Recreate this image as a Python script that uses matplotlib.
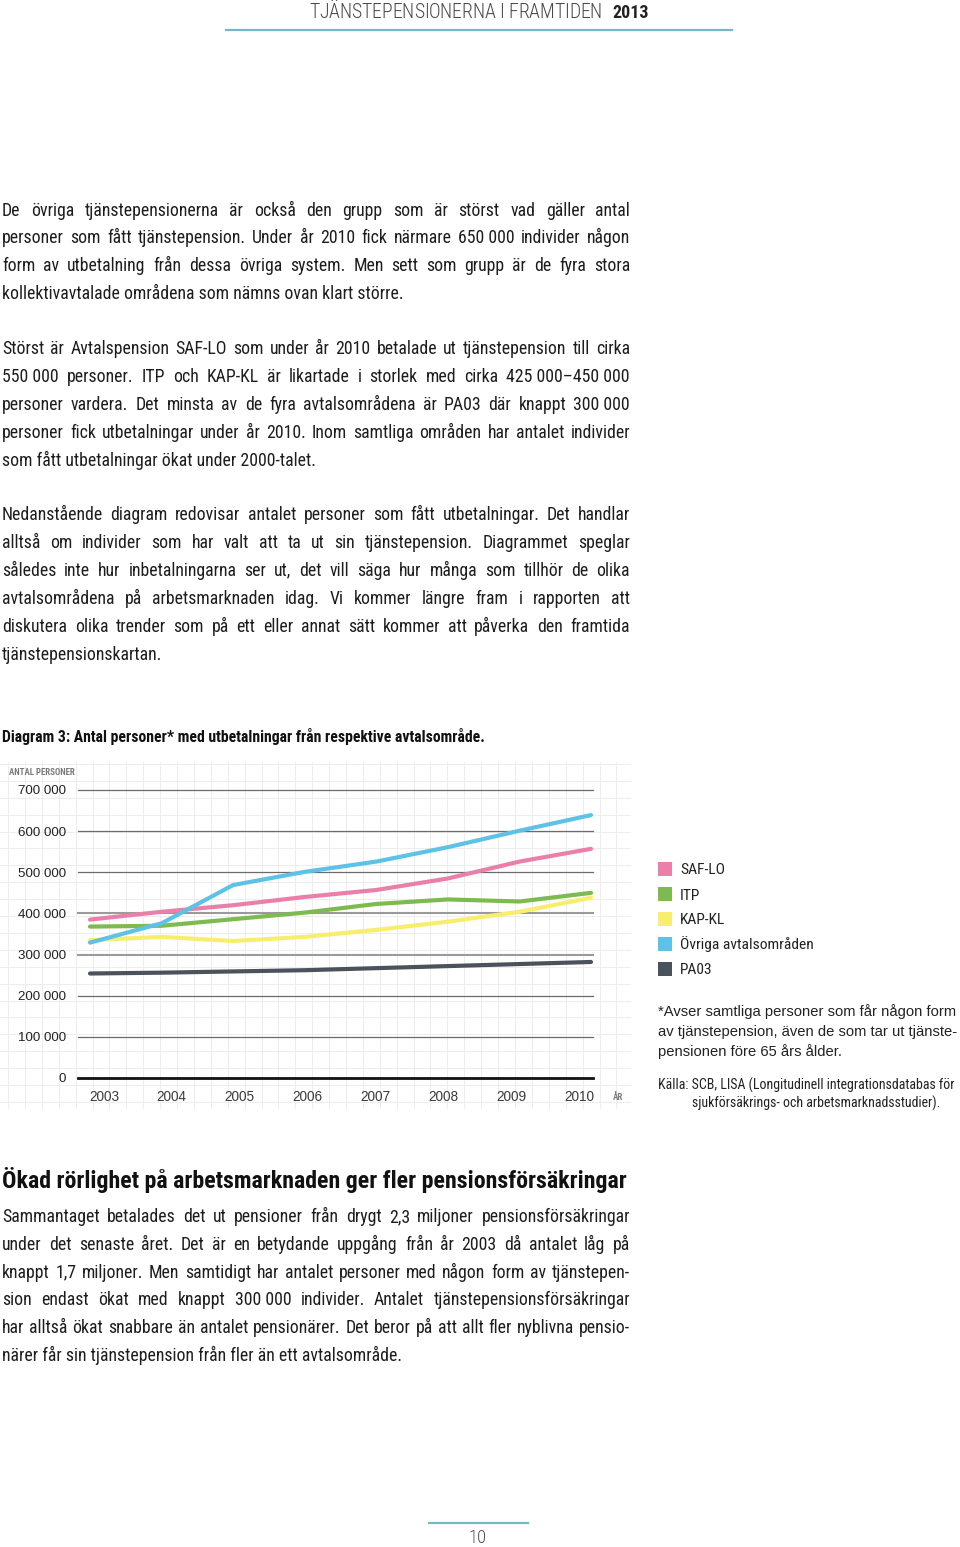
import matplotlib
matplotlib.use("Agg")
import matplotlib.pyplot as plt
from matplotlib import font_manager as fm
from matplotlib.font_manager import FontProperties
from matplotlib.patches import Rectangle
import numpy as np

# ---------------- data ----------------
years = [2003, 2004, 2005, 2006, 2007, 2008, 2009, 2010]
series_names = ["SAF-LO", "ITP", "KAP-KL", "Övriga avtalsområden", "PA03"]
saf_lo = [385000, 404000, 420000, 440000, 457000, 485000, 526000, 557000]
itp = [368000, 370000, 386000, 402000, 423000, 434000, 429000, 450000]
kap_kl = [335000, 343000, 333000, 343000, 360000, 380000, 404000, 438000]
ovriga = [329000, 376000, 469000, 501000, 526000, 561000, 601000, 639000]
pa03 = [254000, 256000, 259000, 262000, 267000, 272000, 277000, 282000]
series_colors = ["#ea80a9", "#7dbb50", "#f8ee6e", "#5ec2e6", "#4a525c"]
y_ticks = [0, 100000, 200000, 300000, 400000, 500000, 600000, 700000]
y_tick_labels = ["0", "100 000", "200 000", "300 000", "400 000", "500 000", "600 000", "700 000"]

header_text = "TJÄNSTEPENSIONERNA I FRAMTIDEN"
header_year = "2013"
para1 = ["De övriga tjänstepensionerna är också den grupp som är störst vad gäller antal",
         "personer som fått tjänstepension. Under år 2010 fick närmare 650\u00a0000 individer någon",
         "form av utbetalning från dessa övriga system. Men sett som grupp är de fyra stora",
         "kollektivavtalade områdena som nämns ovan klart större."]
para2 = ["Störst är Avtalspension SAF-LO som under år 2010 betalade ut tjänstepension till cirka",
         "550\u00a0000 personer. ITP och KAP-KL är likartade i storlek med cirka 425\u00a0000–450\u00a0000",
         "personer vardera. Det minsta av de fyra avtalsområdena är PA03 där knappt 300\u00a0000",
         "personer fick utbetalningar under år 2010. Inom samtliga områden har antalet individer",
         "som fått utbetalningar ökat under 2000-talet."]
para3 = ["Nedanstående diagram redovisar antalet personer som fått utbetalningar. Det handlar",
         "alltså om individer som har valt att ta ut sin tjänstepension. Diagrammet speglar",
         "således inte hur inbetalningarna ser ut, det vill säga hur många som tillhör de olika",
         "avtalsområdena på arbetsmarknaden idag. Vi kommer längre fram i rapporten att",
         "diskutera olika trender som på ett eller annat sätt kommer att påverka den framtida",
         "tjänstepensionskartan."]
chart_title = "Diagram 3: Antal personer* med utbetalningar från respektive avtalsområde."
heading = "Ökad rörlighet på arbetsmarknaden ger fler pensionsförsäkringar"
para4 = ["Sammantaget betalades det ut pensioner från drygt 2,3 miljoner pensionsförsäkringar",
         "under det senaste året. Det är en betydande uppgång från år 2003 då antalet låg på",
         "knappt 1,7 miljoner. Men samtidigt har antalet personer med någon form av tjänstepen-",
         "sion endast ökat med knappt 300\u00a0000 individer. Antalet tjänstepensionsförsäkringar",
         "har alltså ökat snabbare än antalet pensionärer. Det beror på att allt fler nyblivna pensio-",
         "närer får sin tjänstepension från fler än ett avtalsområde."]
footnote = ["*Avser samtliga personer som får någon form",
            "av tjänstepension, även de som tar ut tjänste-",
            "pensionen före 65 års ålder."]
source = ["Källa: SCB, LISA (Longitudinell integrationsdatabas för",
          "sjukförsäkrings- och arbetsmarknadsstudier)."]
page_number = "10"

# ---------------- fonts ----------------
names = {f.name for f in fm.fontManager.ttflist}
COND = dict(family="DejaVu Sans", stretch="condensed")
for cand in ["Roboto Condensed", "Archivo Narrow", "Fira Sans Condensed",
             "IBM Plex Sans Condensed", "Liberation Sans Narrow"]:
    if cand in names:
        COND = dict(family=cand)
        break
REG = dict(family="Liberation Sans")
TXT = "#1e1c1c"

W, H = 960, 1547
fig = plt.figure(figsize=(W / 100, H / 100), dpi=100)
fig.patch.set_facecolor("white")
renderer = fig.canvas.get_renderer()


def fp(size, weight="normal", base=COND):
    return FontProperties(size=size, weight=weight, **base)


def width(s, prop):
    w, h, d = renderer.get_text_width_height_descent(s, prop, ismath=False)
    return w


def fit_size(lines, target, weight="normal", base=COND, ref=14.0):
    mx = max(width(l, fp(ref, weight, base)) for l in lines)
    return ref * target / mx


# background graph paper
bg = fig.add_axes([0, 0, 1, 1], zorder=0)
bg.set_xlim(0, W)
bg.set_ylim(H, 0)
bg.axis("off")
for gx in np.arange(8, 630, 16.9):
    bg.plot([gx, gx], [762, 1108], color="#ededed", lw=0.7, zorder=0)
for gy in np.arange(764, 1108, 16.9):
    bg.plot([0, 630], [gy, gy], color="#ededed", lw=0.7, zorder=0)

# ---------------- chart ----------------
ax_l, ax_r, ax_t, ax_b = 78, 593, 790, 1078
ax = fig.add_axes([ax_l / W, 1 - ax_b / H, (ax_r - ax_l) / W, (ax_b - ax_t) / H], zorder=1)
ax.patch.set_visible(False)
px_per_year = (591 - 90) / 7
x_left = years[0] - (90 - ax_l) / px_per_year
x_right = years[-1] + (ax_r - 591) / px_per_year
ax.set_xlim(x_left, x_right)
ax.set_ylim(0, 700000)
for s in ax.spines.values():
    s.set_visible(False)

for v in y_ticks:
    if v == 0:
        ax.axhline(v, color="#111111", lw=2.0, zorder=2, clip_on=False)
    elif v in (300000, 400000):
        ax.axhline(v, color="#9a9a9a", lw=1.5, zorder=1, clip_on=False)
    else:
        ax.axhline(v, color="#6a6a6a", lw=0.9, zorder=1, clip_on=False)

all_series = [saf_lo, itp, kap_kl, ovriga, pa03]
order = [4, 2, 1, 0, 3]
for i in order:
    ax.plot(years, all_series[i], color=series_colors[i], lw=3.0,
            solid_capstyle="round", solid_joinstyle="round", zorder=3 + i, clip_on=False)

ax.set_yticks(y_ticks)
ax.set_yticklabels(y_tick_labels, fontproperties=fp(9.6, base=REG), color="#222222")
lab_px = (579 - 104) / 7
tick_pos = [x_left + (104 - ax_l + k * lab_px) / px_per_year for k in range(len(years))]
ax.set_xticks(tick_pos)
ax.set_xticklabels([str(y) for y in years], fontproperties=fp(9.8, base=REG), color="#3a3a3a")
ax.tick_params(axis="y", length=0, pad=8.5)
ax.tick_params(axis="x", length=0, pad=8.5)

# ---------------- page text ----------------
pax = fig.add_axes([0, 0, 1, 1], zorder=5)
pax.set_xlim(0, W)
pax.set_ylim(H, 0)
pax.axis("off")
pax.patch.set_visible(False)


def draw_line(x0, x1, y, s, prop, justify, color=TXT):
    if not justify:
        pax.text(x0, y, s, fontproperties=prop, color=color, va="baseline", ha="left")
        return
    words = s.split(" ")
    ws = [width(w_, prop) for w_ in words]
    gap = (x1 - x0 - sum(ws)) / max(len(words) - 1, 1)
    x = x0
    for w_, wd in zip(words, ws):
        pax.text(x, y, w_, fontproperties=prop, color=color, va="baseline", ha="left")
        x += wd + gap


def draw_para(lines, y0, step, prop, x0=2, x1=630):
    for k, l in enumerate(lines):
        draw_line(x0, x1, y0 + k * step, l, prop, justify=(k < len(lines) - 1))


def draw_tracked(x0, x1, y, s, prop, color):
    # letter-spaced text: the string is drawn as one text per character
    ws = [width(c, prop) if c != " " else width("\u00a0", prop) for c in s]
    gap = (x1 - x0 - sum(ws)) / max(len(s) - 1, 1)
    x = x0
    for c, wd in zip(s, ws):
        if c != " ":
            pax.text(x, y, c, fontproperties=prop, color=color, va="baseline", ha="left")
        x += wd + gap


body_lines = [l for p in (para1, para2, para3) for l in p[:-1]] + para4[:-1]
bsize = fit_size(body_lines, 622)
body = fp(bsize)
draw_para(para1, 215.5, 27.8, body)
draw_para(para2, 354.5, 27.8, body)
draw_para(para3, 520.5, 27.8, body)
draw_para(para4, 1222, 27.8, body)

# heading
hsize = fit_size([heading], 626, weight="bold")
pax.text(2, 1188, heading, fontproperties=fp(hsize, "bold"), color="#111111", va="baseline")

# chart title
tsize = fit_size([chart_title], 488, weight="bold")
pax.text(2, 742, chart_title, fontproperties=fp(tsize, "bold"), color="#111111", va="baseline")

# header
draw_tracked(309, 602, 18, header_text, fp(14.2, "light"), "#4a4a4a")
ysize = fit_size([header_year], 36, weight="bold")
pax.text(612, 18, header_year, fontproperties=fp(ysize, "bold"), color="#222222", va="baseline")
pax.plot([226, 732], [30, 30], color="#7ab6c9", lw=1.6)

# footer
pax.plot([429, 528], [1523, 1523], color="#7ab6c9", lw=1.6)
pax.text(478, 1538, page_number, fontproperties=fp(13.5, "light"), color="#555555", ha="center", va="center")

# axis captions
pax.text(9, 775, "ANTAL PERSONER", fontproperties=fp(6.4, "bold"), color="#7a7a7a", va="baseline")
pax.text(613, 1100.5, "ÅR", fontproperties=fp(6.4, "bold"), color="#7a7a7a", va="baseline")

# legend
lsize = fit_size([series_names[3]], 134)
for k, (name, col) in enumerate(zip(series_names, series_colors)):
    yc = 869 + k * 25
    pax.add_patch(Rectangle((658, yc - 7), 14, 14, facecolor=col, edgecolor="none"))
    pax.text(680, yc + 5.5, name, fontproperties=fp(lsize), color="#222222", va="baseline")

# footnote + source
fsize = fit_size([footnote[0]], 300, base=REG)
for k, l in enumerate(footnote):
    pax.text(658, 1016 + k * 20, l, fontproperties=fp(fsize, base=REG), color="#222222", va="baseline")
ssize = fit_size([source[0]], 298)
pax.text(658, 1089.5, source[0], fontproperties=fp(ssize), color="#222222", va="baseline")
pax.text(692, 1108, source[1], fontproperties=fp(ssize), color="#222222", va="baseline")

fig.savefig("out.png", dpi=100)
